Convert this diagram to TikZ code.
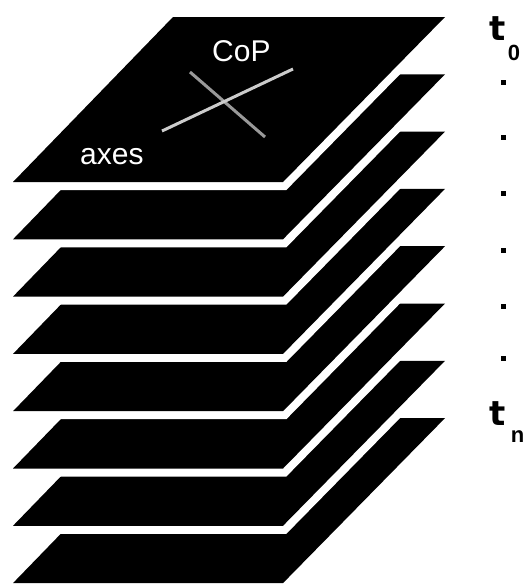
\documentclass[tikz,border=0pt]{standalone}
\usepackage{fontspec}
\setmainfont{Liberation Sans}
\newfontfamily\stampfont{DejaVu Sans}
\usepackage{tikz}
\usetikzlibrary{positioning}

\begin{document}
\begin{tikzpicture}[
    x=1pt, y=-1pt,
    gap/.style={draw=white, line width=16pt},
    plate/.style={fill=black},
    axisa/.style={draw=gray!80!white, line width=3pt},
    axisb/.style={draw=gray!40!white, line width=3pt},
    inlbl/.style={text=white, inner sep=0pt, anchor=base west, font=\fontsize{30}{30}\selectfont},
    tlbl/.style={inner sep=0pt, anchor=base west, font=\stampfont\bfseries\fontsize{34}{34}\selectfont},
    sublbl/.style={inner sep=0pt, anchor=base west, font=\bfseries\fontsize{22}{22}\selectfont},
    dot/.style={fill=black, minimum size=5pt, inner sep=0pt}
  ]
    \useasboundingbox (0,0) rectangle (524,584);

    % stack of time slices, back to front
    \foreach \k in {7,6,...,0} {
      \begin{scope}[shift={(0,\k*57.3)}]
        \path[gap] (13,182) -- (283,182) -- (445,17) -- (173,17) -- cycle;
        \path[plate] (13,182) -- (283,182) -- (445,17) -- (173,17) -- cycle;
      \end{scope}
    }

    % axes on the top slice
    \coordinate (a1) at (190,72);
    \coordinate (a2) at (265,137);
    \coordinate (b1) at (162,131);
    \coordinate (b2) at (293,69);
    \draw[axisa] (a1) -- (a2);
    \draw[axisb] (b1) -- (b2);

    \node[inlbl] (cop) at (212,61) {CoP};
    \node[inlbl] (axes) at (80,164) {axes};

    % time labels
    \node[tlbl] (t0) at (489,40) {t};
    \node[sublbl] (t0s) at ([xshift=2pt,yshift=-20pt]t0.base east) {0};
    \node[tlbl] (tn) at (489,425) {t};
    \node[sublbl] (tns) at ([xshift=5pt,yshift=-17pt]tn.base east) {n};

    \foreach \y [count=\i] in {82,137,193,250,306,358}
      \node[dot] (d\i) at (503,\y) {};
  \end{tikzpicture}
\end{document}
